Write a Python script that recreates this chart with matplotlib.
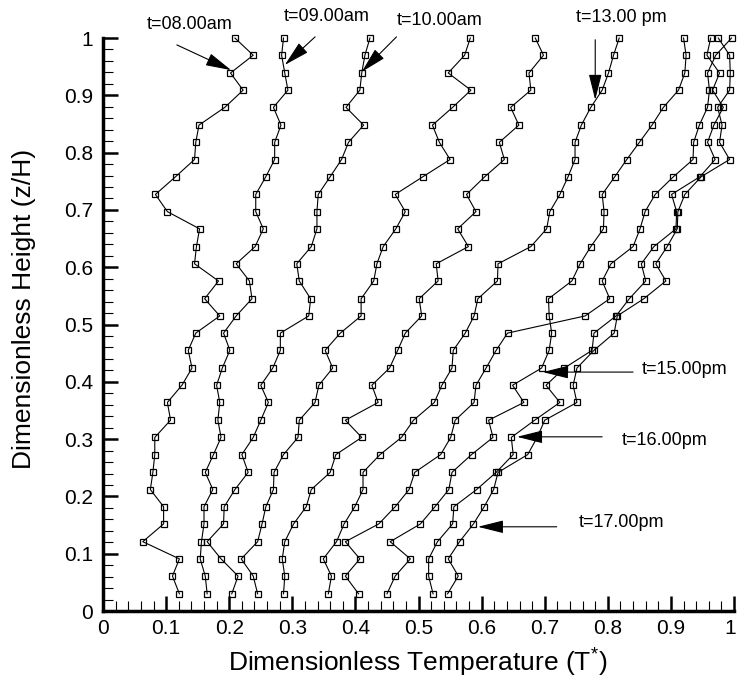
import matplotlib
matplotlib.use("Agg")
import matplotlib.pyplot as plt
from matplotlib.ticker import MultipleLocator, FuncFormatter
from matplotlib.transforms import ScaledTranslation

plt.rcParams["font.family"] = ["Liberation Sans", "DejaVu Sans"]
plt.rcParams["mathtext.fontset"] = "custom"
plt.rcParams["mathtext.rm"] = "Liberation Sans"
plt.rcParams["mathtext.it"] = "Liberation Sans:italic"

# Dimensionless measuring heights z/H (bottom to top)
heights = [0.030, 0.061, 0.091, 0.121, 0.152, 0.182, 0.212, 0.242, 0.273, 0.303,
           0.333, 0.364, 0.394, 0.424, 0.455, 0.485, 0.515, 0.545, 0.576, 0.606,
           0.636, 0.667, 0.697, 0.727, 0.758, 0.788, 0.818, 0.848, 0.879, 0.909,
           0.939, 0.970, 1.000]

# Dimensionless temperature profiles T* at each height, one list per time of day
t08 = [0.121, 0.110, 0.121, 0.063, 0.096, 0.096, 0.075, 0.079, 0.082, 0.082,
       0.107, 0.102, 0.125, 0.141, 0.135, 0.147, 0.185, 0.161, 0.183, 0.145,
       0.148, 0.153, 0.102, 0.083, 0.115, 0.145, 0.147, 0.152, 0.193, 0.222,
       0.202, 0.238, 0.209]
t09 = [0.165, 0.162, 0.154, 0.156, 0.160, 0.160, 0.174, 0.162, 0.175, 0.187,
       0.182, 0.185, 0.180, 0.189, 0.201, 0.191, 0.211, 0.236, 0.232, 0.211,
       0.241, 0.254, 0.242, 0.242, 0.258, 0.272, 0.272, 0.282, 0.270, 0.293,
       0.288, 0.283, 0.286]
t10 = [0.204, 0.214, 0.187, 0.165, 0.191, 0.192, 0.209, 0.230, 0.220, 0.238,
       0.250, 0.262, 0.250, 0.269, 0.281, 0.281, 0.326, 0.329, 0.311, 0.307,
       0.330, 0.339, 0.339, 0.341, 0.360, 0.378, 0.389, 0.413, 0.385, 0.407,
       0.410, 0.415, 0.423]
t11 = [0.245, 0.238, 0.219, 0.245, 0.252, 0.258, 0.270, 0.271, 0.286, 0.309,
       0.311, 0.336, 0.342, 0.364, 0.352, 0.376, 0.409, 0.409, 0.429, 0.434,
       0.444, 0.464, 0.479, 0.463, 0.507, 0.550, 0.533, 0.522, 0.554, 0.583,
       0.547, 0.573, 0.582]
t12 = [0.286, 0.288, 0.284, 0.288, 0.302, 0.322, 0.330, 0.360, 0.369, 0.410,
       0.384, 0.436, 0.426, 0.454, 0.467, 0.479, 0.505, 0.501, 0.531, 0.528,
       0.579, 0.562, 0.591, 0.576, 0.605, 0.636, 0.628, 0.659, 0.646, 0.678,
       0.675, 0.698, 0.685]
t13 = [0.357, 0.362, 0.349, 0.370, 0.382, 0.399, 0.412, 0.412, 0.439, 0.473,
       0.492, 0.525, 0.537, 0.553, 0.555, 0.574, 0.588, 0.594, 0.625, 0.626,
       0.678, 0.703, 0.708, 0.724, 0.737, 0.748, 0.748, 0.758, 0.773, 0.791,
       0.801, 0.809, 0.818]
t14 = [0.405, 0.384, 0.407, 0.384, 0.437, 0.463, 0.485, 0.494, 0.535, 0.551,
       0.558, 0.588, 0.591, 0.607, 0.623, 0.641, 0.764, 0.803, 0.791, 0.805,
       0.840, 0.851, 0.859, 0.875, 0.904, 0.935, 0.936, 0.945, 0.958, 0.961,
       0.958, 0.971, 0.996]
t15 = [0.450, 0.463, 0.487, 0.455, 0.503, 0.526, 0.548, 0.553, 0.584, 0.618,
       0.611, 0.667, 0.649, 0.695, 0.707, 0.711, 0.707, 0.706, 0.743, 0.756,
       0.773, 0.793, 0.794, 0.791, 0.811, 0.830, 0.850, 0.870, 0.888, 0.912,
       0.922, 0.924, 0.920]
t16 = [0.523, 0.516, 0.516, 0.530, 0.554, 0.556, 0.592, 0.623, 0.650, 0.647,
       0.684, 0.724, 0.702, 0.731, 0.775, 0.778, 0.813, 0.834, 0.860, 0.853,
       0.873, 0.908, 0.909, 0.901, 0.946, 0.970, 0.958, 0.968, 0.983, 0.966,
       0.977, 0.957, 0.963]
t17 = [0.546, 0.563, 0.547, 0.565, 0.587, 0.604, 0.619, 0.626, 0.673, 0.688,
       0.700, 0.751, 0.745, 0.751, 0.778, 0.810, 0.815, 0.857, 0.892, 0.876,
       0.894, 0.910, 0.911, 0.922, 0.948, 0.993, 0.977, 0.981, 0.974, 0.993,
       0.994, 0.993, 0.975]

profiles = [t08, t09, t10, t11, t12, t13, t14, t15, t16, t17]

# Time labels with their arrow (tail -> head) in data coordinates
labels = ["t=08.00am", "t=09.00am", "t=10.00am", "t=13.00 pm",
          "t=15.00pm", "t=16.00pm", "t=17.00pm"]
label_pos = [(0.138, 1.023), (0.355, 1.037), (0.534, 1.031), (0.821, 1.035),
             (0.922, 0.421), (0.890, 0.297), (0.822, 0.154)]
arrow_tail = [(0.117, 0.988), (0.336, 1.002), (0.465, 1.002), (0.780, 0.997),
              (0.840, 0.417), (0.791, 0.304), (0.719, 0.147)]
arrow_head = [(0.203, 0.944), (0.288, 0.953), (0.410, 0.941), (0.780, 0.892),
              (0.697, 0.417), (0.656, 0.304), (0.594, 0.147)]

x_ticks = [0, 0.1, 0.2, 0.3, 0.4, 0.5, 0.6, 0.7, 0.8, 0.9, 1]
y_ticks = [0, 0.1, 0.2, 0.3, 0.4, 0.5, 0.6, 0.7, 0.8, 0.9, 1]

fig = plt.figure(figsize=(7.37, 6.84), dpi=100)
ax = fig.add_axes([0.1398, 0.1067, 0.8562, 0.8377])

for prof in profiles:
    ax.plot(prof, heights, color="black", lw=0.8, marker="s", ms=5,
            mfc="none", mec="black", mew=0.9, clip_on=False)

for txt, pos, tail, head in zip(labels, label_pos, arrow_tail, arrow_head):
    ax.text(pos[0], pos[1], txt, fontsize=13, ha="center", va="center",
            clip_on=False)
    ax.annotate("", xy=head, xytext=tail, annotation_clip=False,
                arrowprops=dict(arrowstyle="-|>,head_length=1.6,head_width=0.4",
                                mutation_scale=10, color="black", lw=0.8,
                                shrinkA=0, shrinkB=0))

ax.set_xlim(0, 1)
ax.set_ylim(0, 1)
for side in ("top", "right"):
    ax.spines[side].set_visible(False)
for side in ("left", "bottom"):
    ax.spines[side].set_linewidth(2.5)

fmt = FuncFormatter(lambda v, p: f"{v:g}")
ax.set_xticks(x_ticks)
ax.set_yticks(y_ticks)
ax.xaxis.set_minor_locator(MultipleLocator(0.02))
ax.yaxis.set_minor_locator(MultipleLocator(0.02))
ax.xaxis.set_major_formatter(fmt)
ax.yaxis.set_major_formatter(fmt)
ax.tick_params(which="major", direction="in", length=11, width=1.8,
               labelsize=15)
ax.tick_params(which="minor", direction="in", length=7, width=0.8)
ax.tick_params(axis="x", which="major", pad=6)
ax.tick_params(axis="y", which="major", pad=7)

ax.set_xlabel("Dimensionless Temperature (T$^{*}$)", fontsize=19)
ax.set_ylabel("Dimensionless Height (z/H)", fontsize=19)
ax.xaxis.set_label_coords(0.499, -0.062)
ax.yaxis.set_label_coords(-0.106, 0.527)

# pull the last x tick label in from the right figure edge
last_tick = ax.xaxis.get_major_ticks()[-1]
last_tick.label1.set_horizontalalignment("right")
last_tick.label1.set_transform(last_tick.label1.get_transform() +
                               ScaledTranslation(2 / 100, 0, fig.dpi_scale_trans))

fig.savefig("out.png", dpi=100)
